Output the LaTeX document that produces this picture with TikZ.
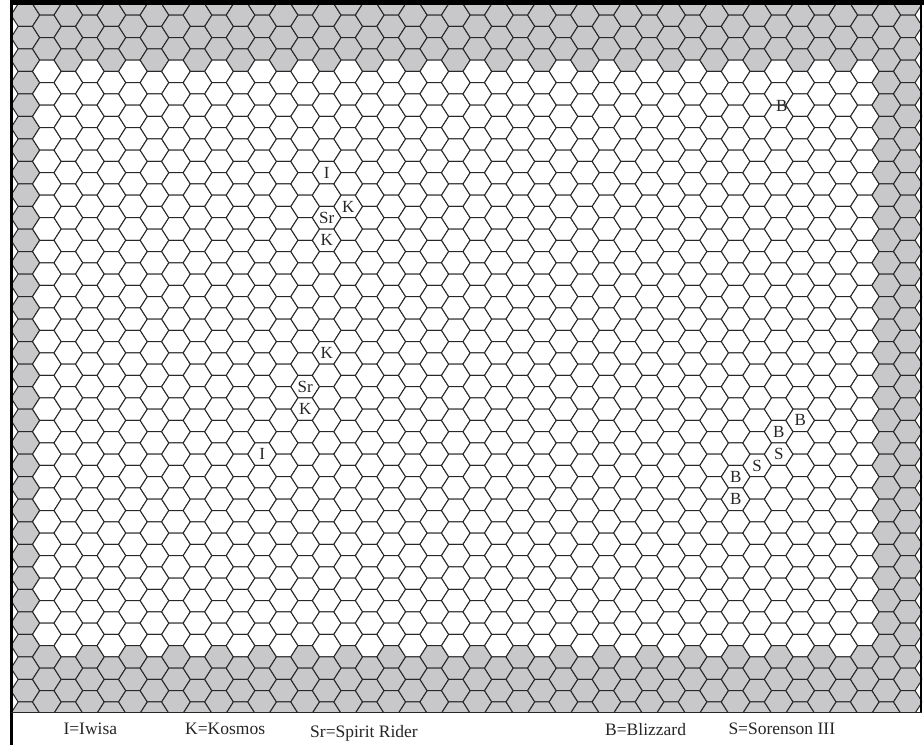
\documentclass[tikz,border=0pt]{standalone}
\usepackage{fontspec}
\setmainfont{Liberation Serif}
\definecolor{hexgray}{RGB}{200,200,202}
\definecolor{hexedge}{RGB}{40,40,40}
\tikzset{
  hexline/.style={draw=hexedge, line width=1pt, line join=round},
  lbl/.style={font=\fontsize{17}{19}\selectfont, inner sep=0pt, text=black!85},
  legend/.style={font=\fontsize{17.5}{20}\selectfont, anchor=base west, inner sep=0pt, text=black!85},
  frame/.style={fill=black}
}
\begin{document}
\begin{tikzpicture}[x=1pt,y=-1pt]
\useasboundingbox (0,0) rectangle (924,745);
\fill[white] (0,0) rectangle (924,745);
% hex grid
\begin{scope}
\clip (11,5) rectangle (922,712.5);
\foreach \k in {0,...,41}{
  \foreach \j in {0,...,63}{
    \pgfmathtruncatemacro{\ok}{mod(\k+\j,2)}
    \ifnum\ok=1
      \pgfmathsetmacro{\cx}{25.35+21.525*\k}
      \pgfmathsetmacro{\cy}{3.8+11.26*\j}
      \pgfmathtruncatemacro{\lo}{6+mod(\k+1,2)}
      \pgfmathtruncatemacro{\hi}{56+mod(\k+1,2)}
      \def\fillc{hexgray}
      \ifnum\k>0 \ifnum\k<40 \ifnum\j>\numexpr\lo-1\relax \ifnum\j<\numexpr\hi+1\relax \def\fillc{white}\fi\fi\fi\fi
      \filldraw[hexline, fill=\fillc] (\cx-14.35,\cy) -- (\cx-7.175,\cy-11.26) -- (\cx+7.175,\cy-11.26) -- (\cx+14.35,\cy) -- (\cx+7.175,\cy+11.26) -- (\cx-7.175,\cy+11.26) -- cycle;
    \fi
  }
}
\end{scope}
% frame
\fill[frame] (10,0) rectangle (924,5);
\fill[frame] (10,0) rectangle (12.5,745);
\fill[frame] (920,0) rectangle (922,713);
\draw[hexedge, line width=1.5pt] (11,712.5) -- (922,712.5);
% unit labels
\newcommand{\hx}[1]{25.35+21.525*#1}
\newcommand{\hy}[1]{3.8+11.26*#1}
\node[lbl] (i1) at ({\hx{14}},{\hy{15}}) {I};
\node[lbl] (sr1) at ({\hx{14}},{\hy{19}}) {Sr};
\node[lbl] (k1) at ({\hx{15}},{\hy{18}}) {K};
\node[lbl] (k2) at ({\hx{14}},{\hy{21}}) {K};
\node[lbl] (k3) at ({\hx{14}},{\hy{31}}) {K};
\node[lbl] (sr2) at ({\hx{13}},{\hy{34}}) {Sr};
\node[lbl] (k4) at ({\hx{13}},{\hy{36}}) {K};
\node[lbl] (i2) at ({\hx{11}},{\hy{40}}) {I};
\node[lbl] (b1) at (781.7,106) {B};
\node[lbl] (b2) at ({\hx{36}},{\hy{37}}) {B};
\node[lbl] (b3) at ({\hx{35}},{\hy{38}}) {B};
\node[lbl] (s1) at ({\hx{35}},{\hy{40}}) {S};
\node[lbl] (s2) at ({\hx{34}},{\hy{41}}) {S};
\node[lbl] (b4) at ({\hx{33}},{\hy{42}}) {B};
\node[lbl] (b5) at ({\hx{33}},{\hy{44}}) {B};
% legend
\node[legend] (lgi) at (63.3,734) {I=Iwisa};
\node[legend] (lgk) at (185,734) {K=Kosmos};
\node[legend] (lgsr) at (310,737) {Sr=Spirit Rider};
\node[legend] (lgb) at (605,735) {B=Blizzard};
\node[legend] (lgs) at (728.3,734) {S=Sorenson III};
\end{tikzpicture}
\end{document}
